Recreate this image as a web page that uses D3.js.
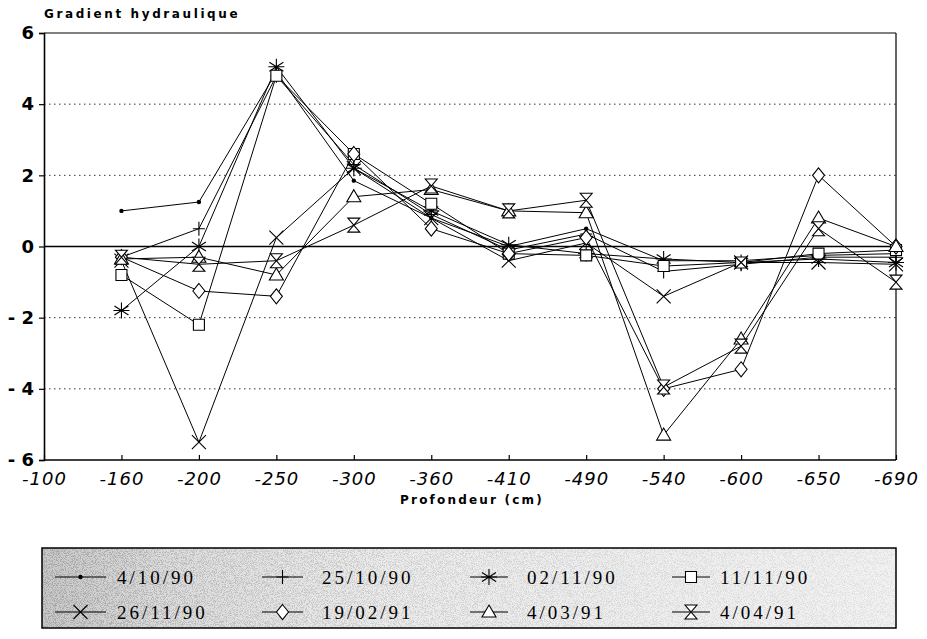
<!DOCTYPE html>
<html><head><meta charset="utf-8">
<script src="https://cdn.jsdelivr.net/npm/d3@7"></script>
<style>body{margin:0;background:#fff}</style>
</head><body>
<svg id="chart" width="927" height="639"></svg>
<script>
const depths = ["-100","-160","-200","-250","-300","-360","-410","-490","-540","-600","-650","-690"];
const pointDepths = ["-160","-200","-250","-300","-360","-410","-490","-540","-600","-650","-690"];
const yTicks = [-6,-4,-2,0,2,4,6];
const seriesNames = ["4/10/90","25/10/90","02/11/90","11/11/90","26/11/90","19/02/91","4/03/91","4/04/91"];
const markerTypes = ["dot","plus","star","square","cross","diamond","triangle","hourglass"];
const s_4_10_90  = [1.0, 1.25, 4.9, 1.85, 0.8, 0.0, 0.5, -0.4, -0.4, -0.25, -0.2];
const s_25_10_90 = [-0.3, 0.5, 4.8, 2.3, 0.9, -0.1, 0.35, -0.7, -0.5, -0.3, -0.3];
const s_02_11_90 = [-1.8, 0.0, 5.05, 2.2, 1.0, 0.05, -0.2, -0.35, -0.45, -0.35, -0.45];
const s_11_11_90 = [-0.8, -2.2, 4.8, 2.6, 1.2, -0.2, -0.25, -0.55, -0.45, -0.2, -0.1];
const s_26_11_90 = [-0.4, -5.5, 0.25, 2.2, 0.8, -0.4, 0.1, -1.4, -0.45, -0.45, -0.5];
const s_19_02_91 = [-0.3, -1.25, -1.4, 2.6, 0.5, -0.2, 0.25, -4.0, -3.45, 2.0, 0.0];
const s_4_03_91  = [-0.35, -0.3, -0.8, 1.4, 1.6, 1.0, 0.95, -5.3, -2.6, 0.8, 0.0];
const s_4_04_91  = [-0.3, -0.5, -0.4, 0.6, 1.7, 1.0, 1.3, -3.95, -2.8, 0.5, -1.0];
const seriesValues = [s_4_10_90, s_25_10_90, s_02_11_90, s_11_11_90, s_26_11_90, s_19_02_91, s_4_03_91, s_4_04_91];

const svg = d3.select("#chart");
const L = 44, R = 896, T = 33, B = 460;
const x = d3.scalePoint().domain(depths).range([L, R]);
const y = d3.scaleLinear().domain([-6, 6]).range([B, T]);

// grid
svg.append("g").selectAll("line").data([-4,-2,2,4]).join("line")
  .attr("x1", L).attr("x2", R).attr("y1", d => y(d)).attr("y2", d => y(d))
  .attr("stroke", "#000").attr("stroke-width", 0.8).attr("stroke-dasharray", "1.5,3.5");
svg.append("line").attr("x1", L).attr("x2", R).attr("y1", y(0)).attr("y2", y(0))
  .attr("stroke", "#000").attr("stroke-width", 1.6);
svg.append("line").attr("x1", L).attr("x2", R).attr("y1", T).attr("y2", T).attr("stroke", "#000").attr("stroke-width", 1);
svg.append("line").attr("x1", R).attr("x2", R).attr("y1", T).attr("y2", B).attr("stroke", "#000").attr("stroke-width", 1.2);

// y axis
const yAxis = d3.axisLeft(y).tickValues(yTicks).tickSize(5).tickFormat(d => d < 0 ? "- " + Math.abs(d) : d);
const gy = svg.append("g").attr("transform", `translate(${L},0)`).call(yAxis);
gy.select(".domain").attr("stroke-width", 1.6);
gy.selectAll(".tick line").attr("stroke-width", 1.2);
gy.selectAll(".tick text").attr("font-family", "DejaVu Sans, sans-serif").attr("font-size", 18)
  .attr("font-weight", "bold").attr("x", -10).attr("fill", "#000");

// x axis
const xAxis = d3.axisBottom(x).tickSize(-5).tickPadding(12);
const gx = svg.append("g").attr("transform", `translate(0,${B})`).call(xAxis);
gx.select(".domain").attr("stroke-width", 1.6).attr("d", `M${L},0H${R}`);
gx.selectAll(".tick line").attr("stroke-width", 1.2);
gx.selectAll(".tick text").attr("font-family", "DejaVu Sans, sans-serif").attr("font-size", 18)
  .attr("font-style", "italic").attr("letter-spacing", 1).attr("fill", "#000");

// titles
svg.append("text").attr("x", 44).attr("y", 18).text("Gradient hydraulique")
  .attr("font-family", "DejaVu Sans, sans-serif").attr("font-weight", "bold").attr("font-size", 12).attr("letter-spacing", 2.6);
svg.append("text").attr("x", 472).attr("y", 504).attr("text-anchor", "middle").text("Profondeur (cm)")
  .attr("font-family", "DejaVu Sans, sans-serif").attr("font-weight", "bold").attr("font-size", 12).attr("letter-spacing", 2.2);

function drawMarker(g, type, cx, cy) {
  const path = (d, fill) => g.append("path").attr("d", d).attr("fill", fill || "none").attr("stroke", "#000").attr("stroke-width", 1.1);
  if (type === "dot") g.append("circle").attr("cx", cx).attr("cy", cy).attr("r", 2.2).attr("fill", "#000");
  else if (type === "plus") path(`M${cx},${cy-7}V${cy+7}M${cx-6},${cy}H${cx+6}`);
  else if (type === "star") path(`M${cx},${cy-8}V${cy+8}M${cx-7},${cy-4.5}L${cx+7},${cy+4.5}M${cx-7},${cy+4.5}L${cx+7},${cy-4.5}M${cx-8},${cy}H${cx+8}`);
  else if (type === "square") path(`M${cx-5.5},${cy-5.5}h11v11h-11Z`, "#fff");
  else if (type === "cross") path(`M${cx-7},${cy-7}L${cx+7},${cy+7}M${cx-7},${cy+7}L${cx+7},${cy-7}`);
  else if (type === "diamond") path(`M${cx},${cy-7.5}L${cx+6},${cy}L${cx},${cy+7.5}L${cx-6},${cy}Z`, "#fff");
  else if (type === "triangle") path(`M${cx},${cy-7}L${cx+7},${cy+5}L${cx-7},${cy+5}Z`, "#fff");
  else if (type === "hourglass") path(`M${cx-6},${cy-7}H${cx+6}L${cx-6},${cy+7}H${cx+6}Z`, "#fff");
}

const line = d3.line().x(d => x(d[0])).y(d => y(d[1]));
seriesValues.forEach(vals => {
  const pts = pointDepths.map((d, j) => [d, vals[j]]);
  svg.append("path").attr("d", line(pts)).attr("fill", "none").attr("stroke", "#000").attr("stroke-width", 1);
});
seriesValues.forEach((vals, i) => {
  const g = svg.append("g");
  pointDepths.forEach((d, j) => drawMarker(g, markerTypes[i], x(d), y(vals[j])));
});

// legend
const defs = svg.append("defs");
const base = defs.append("linearGradient").attr("id", "lgBase").attr("x1", 0).attr("x2", 1);
[[0, "#c8c8c8"], [0.15, "#dcdcdc"], [0.4, "#ebebeb"], [1, "#f2f2f2"]].forEach(s =>
  base.append("stop").attr("offset", s[0]).attr("stop-color", s[1]));
const dens = defs.append("linearGradient").attr("id", "lgDens").attr("x1", 0).attr("x2", 1);
[[0, 0.85], [0.08, 0.7], [0.2, 0.5], [0.45, 0.35], [0.75, 0.25], [1, 0.2]].forEach(s =>
  dens.append("stop").attr("offset", s[0]).attr("stop-color", "#000").attr("stop-opacity", s[1]));
const flt = defs.append("filter").attr("id", "noise").attr("x", 0).attr("y", 0).attr("width", 1).attr("height", 1);
flt.append("feTurbulence").attr("type", "fractalNoise").attr("baseFrequency", 1.1).attr("numOctaves", 2).attr("seed", 7).attr("result", "n");
flt.append("feColorMatrix").attr("in", "n").attr("type", "matrix")
  .attr("values", "0 0 0 0 0.35  0 0 0 0 0.35  0 0 0 0 0.35  7 0 0 0 -3.3").attr("result", "d");
flt.append("feComposite").attr("in", "d").attr("in2", "SourceGraphic").attr("operator", "in");
const lgX = 42, lgY = 548, lgW = 854, lgH = 80;
svg.append("rect").attr("x", lgX).attr("y", lgY).attr("width", lgW).attr("height", lgH).attr("fill", "url(#lgBase)");
svg.append("rect").attr("x", lgX).attr("y", lgY).attr("width", lgW).attr("height", lgH).attr("fill", "url(#lgDens)").attr("filter", "url(#noise)");
svg.append("rect").attr("x", lgX).attr("y", lgY).attr("width", lgW).attr("height", lgH).attr("fill", "none").attr("stroke", "#000").attr("stroke-width", 1.5);
const colLine = [[55, 106], [262, 303], [470, 508], [672, 710]];
const colText = [117, 322, 527, 720];
const rowY = [577, 612];
seriesNames.forEach((name, i) => {
  const c = i % 4, r = Math.floor(i / 4);
  const g = svg.append("g");
  g.append("line").attr("x1", colLine[c][0]).attr("x2", colLine[c][1]).attr("y1", rowY[r]).attr("y2", rowY[r]).attr("stroke", "#000").attr("stroke-width", 1.1);
  drawMarker(g, markerTypes[i], (colLine[c][0] + colLine[c][1]) / 2, rowY[r]);
  g.append("text").attr("x", colText[c]).attr("y", rowY[r]).attr("dy", "0.35em").text(name)
    .attr("font-family", "Liberation Serif, serif").attr("font-size", 19).attr("letter-spacing", 3).attr("fill", "#000");
});
</script>
</body></html>
